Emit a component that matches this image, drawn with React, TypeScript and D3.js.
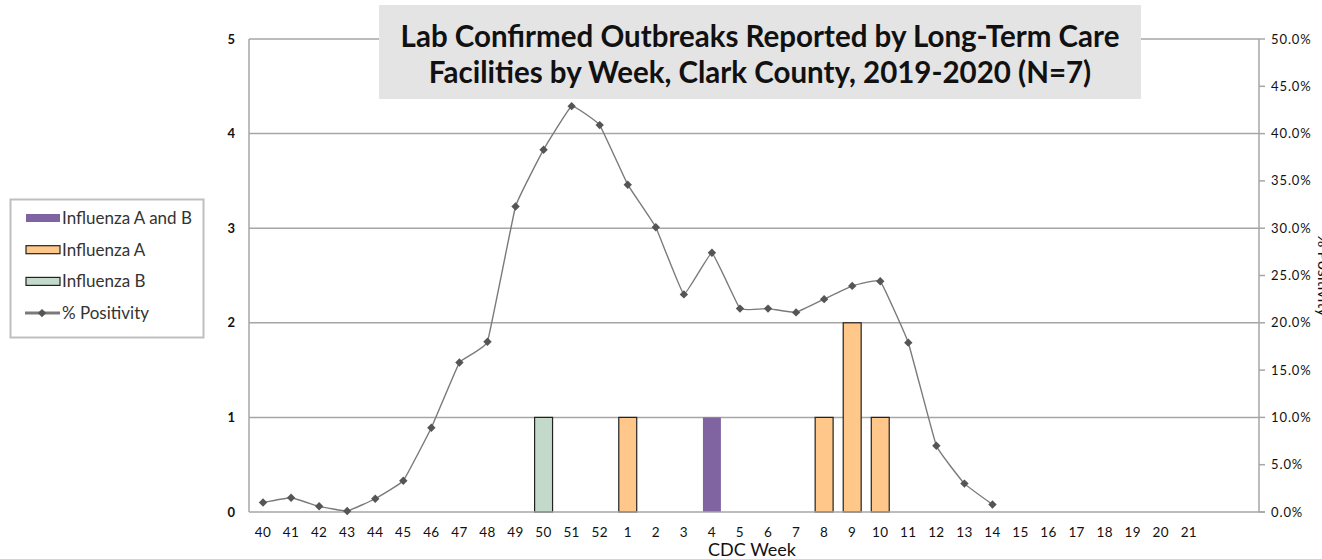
import React, { useEffect, useRef } from "react";
import * as d3 from "d3";

// CDC weeks on the x axis (2019-2020 season)
const weeks = [
  "40", "41", "42", "43", "44", "45", "46", "47", "48", "49", "50", "51", "52",
  "1", "2", "3", "4", "5", "6", "7", "8", "9", "10", "11", "12", "13", "14",
  "15", "16", "17", "18", "19", "20", "21",
];
// unlabeled empty slots at the right end of the category axis
const blankSlots = ["_a", "_b"];

// outbreaks per week, by type
const fluAB = [{ week: "4", value: 1 }];
const fluA = [
  { week: "1", value: 1 },
  { week: "8", value: 1 },
  { week: "9", value: 2 },
  { week: "10", value: 1 },
];
const fluB = [{ week: "50", value: 1 }];

// % positivity (right axis), weeks 40..14
const positivityWeeks = [
  "40", "41", "42", "43", "44", "45", "46", "47", "48", "49", "50", "51", "52",
  "1", "2", "3", "4", "5", "6", "7", "8", "9", "10", "11", "12", "13", "14",
];
const positivity = [
  0.010, 0.015, 0.006, 0.001, 0.014, 0.033, 0.089, 0.158, 0.180, 0.323, 0.383,
  0.429, 0.409, 0.346, 0.301, 0.230, 0.274, 0.215, 0.215, 0.211, 0.225, 0.239,
  0.244, 0.179, 0.070, 0.030, 0.008,
];

const leftTicks = [0, 1, 2, 3, 4, 5];
const rightTicks = [0, 0.05, 0.1, 0.15, 0.2, 0.25, 0.3, 0.35, 0.4, 0.45, 0.5];

const titleLines = [
  "Lab Confirmed Outbreaks Reported by Long-Term Care",
  "Facilities by Week, Clark County, 2019-2020 (N=7)",
];

const legendItems = [
  { label: "Influenza A and B", kind: "bar", fill: "#8064A2", stroke: "none" },
  { label: "Influenza A", kind: "bar", fill: "#FFC88A", stroke: "#222" },
  { label: "Influenza B", kind: "bar", fill: "#C3DACB", stroke: "#222" },
  { label: "% Positivity", kind: "line", fill: "#555", stroke: "#7a7a7a" },
];

export default function App() {
  const ref = useRef<SVGSVGElement | null>(null);

  useEffect(() => {
    const width = 1322;
    const height = 559;
    const margin = { left: 249, right: 63, top: 39, bottom: 47 };
    const font = "Lato, 'Open Sans', sans-serif";
    const grid = "#A6A6A6";

    const svg = d3.select(ref.current);
    svg.selectAll("*").remove();
    svg.attr("width", width).attr("height", height).style("font-family", font);

    const x = d3
      .scaleBand<string>()
      .domain([...weeks, ...blankSlots])
      .range([margin.left, width - margin.right])
      .padding(0);
    const yL = d3.scaleLinear().domain([0, 5]).range([height - margin.bottom, margin.top]);
    const yR = d3.scaleLinear().domain([0, 0.5]).range([height - margin.bottom, margin.top]);
    const barW = x.bandwidth() * 0.64;
    const cx = (w: string) => (x(w) as number) + x.bandwidth() / 2;

    // gridlines
    svg
      .append("g")
      .selectAll("line")
      .data(leftTicks.slice(1))
      .join("line")
      .attr("x1", margin.left)
      .attr("x2", width - margin.right)
      .attr("y1", (d) => yL(d))
      .attr("y2", (d) => yL(d))
      .attr("stroke", grid)
      .attr("stroke-width", 1.5);

    // bars
    const bars = svg.append("g");
    const drawBars = (data: { week: string; value: number }[], fill: string, stroke: string) => {
      bars
        .append("g")
        .selectAll("rect")
        .data(data)
        .join("rect")
        .attr("x", (d) => cx(d.week) - barW / 2)
        .attr("width", barW)
        .attr("y", (d) => yL(d.value))
        .attr("height", (d) => yL(0) - yL(d.value))
        .attr("fill", fill)
        .attr("stroke", stroke)
        .attr("stroke-width", 1.2);
    };
    drawBars(fluAB, "#8064A2", "none");
    drawBars(fluA, "#FFC88A", "#222");
    drawBars(fluB, "#C3DACB", "#222");

    // axes lines
    svg
      .append("line")
      .attr("x1", margin.left)
      .attr("x2", margin.left)
      .attr("y1", yL(5))
      .attr("y2", yL(0))
      .attr("stroke", grid)
      .attr("stroke-width", 1.5);
    svg
      .append("line")
      .attr("x1", margin.left)
      .attr("x2", width - margin.right + 6)
      .attr("y1", yL(0))
      .attr("y2", yL(0))
      .attr("stroke", grid)
      .attr("stroke-width", 1.5);
    svg
      .append("line")
      .attr("x1", width - margin.right)
      .attr("x2", width - margin.right)
      .attr("y1", yR(0.5))
      .attr("y2", yR(0))
      .attr("stroke", grid)
      .attr("stroke-width", 1.5);

    // right ticks
    svg
      .append("g")
      .selectAll("line")
      .data(rightTicks)
      .join("line")
      .attr("x1", width - margin.right)
      .attr("x2", width - margin.right + 6)
      .attr("y1", (d) => yR(d))
      .attr("y2", (d) => yR(d))
      .attr("stroke", grid)
      .attr("stroke-width", 1.5);

    // left tick labels
    svg
      .append("g")
      .selectAll("text")
      .data(leftTicks)
      .join("text")
      .attr("x", margin.left - 14)
      .attr("y", (d) => yL(d))
      .attr("dy", "0.35em")
      .attr("text-anchor", "end")
      .attr("font-size", 13)
      .attr("font-weight", "bold")
      .attr("fill", "#111")
      .text((d) => d);

    // right tick labels
    const fmt = d3.format(".1%");
    svg
      .append("g")
      .selectAll("text")
      .data(rightTicks)
      .join("text")
      .attr("x", width - margin.right + 12)
      .attr("y", (d) => yR(d))
      .attr("dy", "0.35em")
      .attr("font-size", 13)
      .attr("letter-spacing", 0.9)
      .attr("fill", "#111")
      .text((d) => fmt(d));

    // x tick labels
    svg
      .append("g")
      .selectAll("text")
      .data(weeks)
      .join("text")
      .attr("x", (d) => cx(d))
      .attr("y", yL(0) + 25)
      .attr("text-anchor", "middle")
      .attr("font-size", 13.5)
      .attr("letter-spacing", 0.4)
      .attr("fill", "#111")
      .text((d) => d);

    svg
      .append("text")
      .attr("x", 752)
      .attr("y", height - 3)
      .attr("text-anchor", "middle")
      .attr("font-size", 18)
      .attr("fill", "#111")
      .text("CDC Week");

    // right axis title, mostly beyond the right edge as in the source
    svg
      .append("text")
      .attr("transform", `translate(${width - 4},${yR(0.25)}) rotate(90)`)
      .attr("text-anchor", "middle")
      .attr("font-size", 16)
      .attr("fill", "#111")
      .text("% Positivity");

    // positivity line
    const pts = positivityWeeks.map((w, i) => [cx(w), yR(positivity[i])] as [number, number]);
    svg
      .append("path")
      .attr("d", d3.line().curve(d3.curveCardinal.tension(0.75))(pts))
      .attr("fill", "none")
      .attr("stroke", "#7a7a7a")
      .attr("stroke-width", 1.4);
    const diamond = d3.symbol().type(d3.symbolDiamond2).size(45);
    svg
      .append("g")
      .selectAll("path")
      .data(pts)
      .join("path")
      .attr("transform", (d) => `translate(${d[0]},${d[1]})`)
      .attr("d", diamond())
      .attr("fill", "#555");

    // title box
    const title = svg.append("g");
    title
      .append("rect")
      .attr("x", 379)
      .attr("y", 5)
      .attr("width", 762)
      .attr("height", 94)
      .attr("fill", "#E4E4E4");
    title
      .selectAll("text")
      .data(titleLines)
      .join("text")
      .attr("x", 760)
      .attr("y", (_, i) => 47 + i * 36)
      .attr("text-anchor", "middle")
      .attr("font-size", 29.5)
      .attr("font-weight", "bold")
      .attr("fill", "#111")
      .text((d) => d);

    // legend
    const lg = svg.append("g");
    lg.append("rect")
      .attr("x", 10.5)
      .attr("y", 199.5)
      .attr("width", 193)
      .attr("height", 138)
      .attr("fill", "#fff")
      .attr("stroke", "#BFBFBF")
      .attr("stroke-width", 2);
    const item = lg
      .selectAll("g")
      .data(legendItems)
      .join("g")
      .attr("transform", (_, i) => `translate(0,${218 + i * 31.7})`);
    item
      .filter((d) => d.kind === "bar")
      .append("rect")
      .attr("x", 26)
      .attr("y", -4)
      .attr("width", 34)
      .attr("height", 8)
      .attr("fill", (d) => d.fill)
      .attr("stroke", (d) => d.stroke)
      .attr("stroke-width", 1.2);
    const li = item.filter((d) => d.kind === "line");
    li.append("line")
      .attr("x1", 25)
      .attr("x2", 60)
      .attr("stroke", (d) => d.stroke)
      .attr("stroke-width", 3);
    li.append("path")
      .attr("transform", "translate(42,0)")
      .attr("d", diamond())
      .attr("fill", (d) => d.fill);
    item
      .append("text")
      .attr("x", 62)
      .attr("dy", "0.35em")
      .attr("font-size", 17)
      .attr("fill", "#333")
      .text((d) => d.label);
  }, []);

  return (
    <svg
      ref={ref}
      style={{ position: "absolute", left: 0, top: 0, display: "block", background: "#fff" }}
    />
  );
}
